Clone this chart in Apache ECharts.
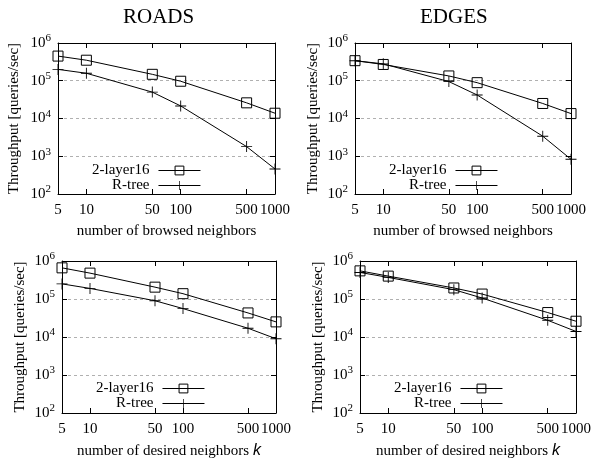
<!DOCTYPE html>
<html>
<head>
<meta charset="utf-8">
<script src="https://cdn.jsdelivr.net/npm/echarts@6/dist/echarts.min.js"></script>
<style>html,body{margin:0;padding:0;background:#fff}#c{width:594px;height:461px}</style>
</head>
<body>
<div id="c"></div>
<script>
const xValues = [5, 10, 50, 100, 500, 1000];
const xTickLabels = ['5', '10', '50', '100', '500', '1000'];
const yTickValues = [100, 1000, 10000, 100000, 1000000];
const seriesNames = ['2-layer16', 'R-tree'];
const panelTitles = ['ROADS', 'EDGES'];
const xNameTop = 'number of browsed neighbors';
const xNameBottom = 'number of desired neighbors {k|k}';
const yName = 'Throughput [queries/sec]';

const roadsLayer = [4.5e5, 3.5e5, 1.48e5, 9.7e4, 2.6e4, 1.38e4];
const roadsRtree = [2.0e5, 1.58e5, 5.0e4, 2.15e4, 1.8e3, 4.6e2];
const edgesLayer = [3.4e5, 2.7e5, 1.34e5, 8.9e4, 2.5e4, 1.35e4];
const edgesRtree = [3.4e5, 2.8e5, 9.5e4, 4.2e4, 3.4e3, 8.3e2];
const roadsKLayer = [6.6e5, 4.8e5, 2.05e5, 1.38e5, 4.3e4, 2.5e4];
const roadsKRtree = [2.5e5, 1.9e5, 9.0e4, 5.6e4, 1.7e4, 9.0e3];
const edgesKLayer = [5.5e5, 4.0e5, 1.95e5, 1.35e5, 4.4e4, 2.6e4];
const edgesKRtree = [5.0e5, 3.7e5, 1.76e5, 1.06e5, 2.75e4, 1.4e4];

const panels = [
  {grid: {left: 58, top: 43, width: 217, height: 151}, layer: roadsLayer, rtree: roadsRtree, xName: xNameTop, yGap: 36, legend: {left: 87, top: 158}},
  {grid: {left: 355, top: 43, width: 216, height: 151}, layer: edgesLayer, rtree: edgesRtree, xName: xNameTop, yGap: 34, legend: {left: 384, top: 158}},
  {grid: {left: 62, top: 261, width: 214, height: 152}, layer: roadsKLayer, rtree: roadsKRtree, xName: xNameBottom, yGap: 34, legend: {left: 91, top: 376}},
  {grid: {left: 360, top: 261, width: 216, height: 152}, layer: edgesKLayer, rtree: edgesKRtree, xName: xNameBottom, yGap: 34, legend: {left: 389, top: 376}}
];

const FONT = 'Liberation Serif';
const plusPath = 'path://M4.6,0h0.8v4.6h4.6v0.8h-4.6v4.6h-0.8v-4.6h-4.6v-0.8h4.6z';
const supMap = {100: '2', 1000: '3', 10000: '4', 100000: '5', 1000000: '6'};

const grids = [], xAxes = [], yAxes = [], series = [], legends = [];
panels.forEach((p, i) => {
  grids.push(Object.assign({containLabel: false}, p.grid));
  const xBase = {
    type: 'log', logBase: 10, min: 5, max: 1000, gridIndex: i,
    axisLine: {show: true, lineStyle: {color: '#000', width: 1}},
    splitLine: {show: false}, minorTick: {show: false}
  };
  xAxes.push(Object.assign({}, xBase, {
    position: 'bottom',
    name: p.xName, nameLocation: 'middle', nameGap: 30,
    nameTextStyle: {fontFamily: FONT, fontSize: 15, color: '#000',
      rich: {k: {fontFamily: 'Liberation Sans', fontStyle: 'italic', fontSize: 16, color: '#000'}}},
    axisTick: {show: true, inside: true, length: 5, lineStyle: {color: '#000'}, customValues: xValues},
    axisLabel: {show: true, customValues: xValues, margin: 9, fontFamily: FONT, fontSize: 15, color: '#000',
      formatter: v => xTickLabels[xValues.findIndex(x => Math.abs(x - v) < 1e-6 * x)] || String(Math.round(v))}
  }));
  xAxes.push(Object.assign({}, xBase, {
    position: 'top',
    axisTick: {show: true, inside: true, length: 5, lineStyle: {color: '#000'}, customValues: xValues},
    axisLabel: {show: false}
  }));
  const yBase = {
    type: 'log', logBase: 10, min: 100, max: 1000000, gridIndex: i,
    axisLine: {show: true, lineStyle: {color: '#000', width: 1}},
    axisTick: {show: true, inside: true, length: 5, lineStyle: {color: '#000'}},
    minorTick: {show: false}
  };
  yAxes.push(Object.assign({}, yBase, {
    position: 'left',
    name: yName, nameLocation: 'middle', nameGap: p.yGap,
    nameTextStyle: {fontFamily: FONT, fontSize: 15, color: '#000'},
    splitLine: {show: true, lineStyle: {color: '#b0b0b0', type: [3, 3], width: 1}},
    axisLabel: {show: true, margin: 7,
      formatter: v => '{b|10}{s|' + (supMap[Math.round(v)] || '') + '}',
      rich: {
        b: {fontFamily: FONT, fontSize: 15, color: '#000'},
        s: {fontFamily: FONT, fontSize: 11, color: '#000', padding: [0, 0, 9, 0]}
      }}
  }));
  yAxes.push(Object.assign({}, yBase, {
    position: 'right', splitLine: {show: false}, axisLabel: {show: false}
  }));
  series.push({
    name: seriesNames[0], type: 'line', xAxisIndex: 2 * i, yAxisIndex: 2 * i,
    data: xValues.map((x, j) => [x, p.layer[j]]),
    symbol: 'rect', symbolSize: 10,
    itemStyle: {color: 'rgba(0,0,0,0)', borderColor: '#000', borderWidth: 1},
    lineStyle: {color: '#000', width: 1}, z: 3, animation: false
  });
  series.push({
    name: seriesNames[1], type: 'line', xAxisIndex: 2 * i, yAxisIndex: 2 * i,
    data: xValues.map((x, j) => [x, p.rtree[j]]),
    symbol: plusPath, symbolSize: 11,
    itemStyle: {color: '#000', borderWidth: 0},
    lineStyle: {color: '#000', width: 1}, z: 3, animation: false
  });
  legends.push({
    data: [
      {name: seriesNames[0], itemStyle: {color: 'rgba(0,0,0,0)', borderColor: '#000', borderWidth: 1}},
      {name: seriesNames[1], itemStyle: {color: '#000', borderWidth: 0}}
    ],
    orient: 'vertical', align: 'right',
    left: p.legend.left, top: p.legend.top,
    itemWidth: 42, itemHeight: 11, itemGap: 0,
    lineStyle: {width: 1, color: '#000'},
    textStyle: {fontFamily: FONT, fontSize: 15, color: '#000', padding: [0, 4, 0, 0]},
    selectedMode: false
  });
});

const chart = echarts.init(document.getElementById('c'), null, {renderer: 'canvas'});
chart.setOption({
  backgroundColor: '#fff',
  animation: false,
  grid: grids, xAxis: xAxes, yAxis: yAxes, series: series, legend: legends,
  graphic: [
    {type: 'text', left: 160 - 37, top: 7, style: {text: panelTitles[0], font: '21px "Liberation Serif"', fill: '#000'}},
    {type: 'text', left: 457 - 37, top: 7, style: {text: panelTitles[1], font: '21px "Liberation Serif"', fill: '#000'}}
  ]
});
</script>
</body>
</html>
